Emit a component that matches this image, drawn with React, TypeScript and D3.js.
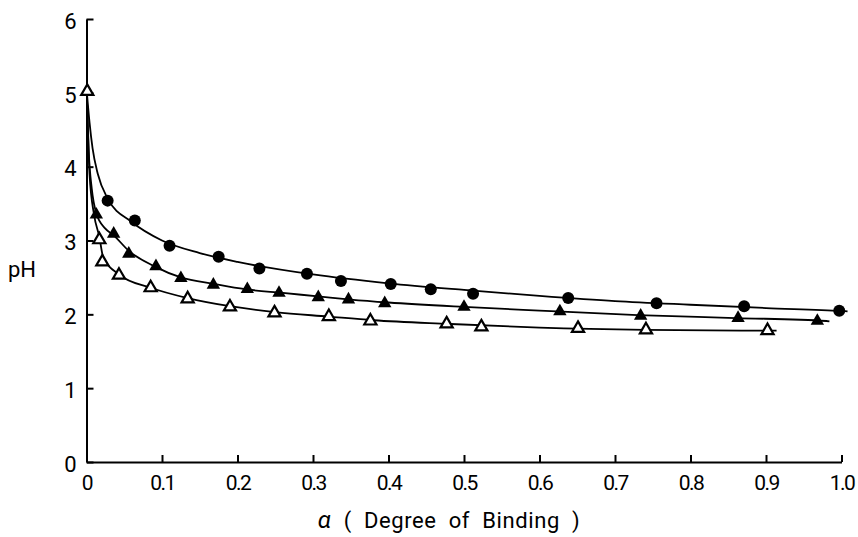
import React, { useEffect, useRef } from 'react';
import * as d3 from 'd3';

// marker readings (alpha, pH) for the three titrations
const circleAlpha = [0.028, 0.064, 0.11, 0.175, 0.229, 0.292, 0.337, 0.403, 0.456, 0.512, 0.638, 0.755, 0.871, 0.997];
const circlePH = [3.54, 3.27, 2.93, 2.78, 2.62, 2.55, 2.45, 2.41, 2.34, 2.28, 2.22, 2.15, 2.11, 2.05];

const filledAlpha = [0.013, 0.036, 0.056, 0.092, 0.125, 0.168, 0.213, 0.255, 0.307, 0.347, 0.395, 0.5, 0.627, 0.734, 0.863, 0.968];
const filledPH = [3.35, 3.09, 2.82, 2.65, 2.49, 2.4, 2.34, 2.29, 2.23, 2.2, 2.15, 2.1, 2.04, 1.98, 1.95, 1.91];

const openAlpha = [0.001, 0.017, 0.021, 0.043, 0.085, 0.134, 0.19, 0.249, 0.321, 0.376, 0.477, 0.523, 0.651, 0.741, 0.902];
const openPH = [5.02, 3.01, 2.71, 2.53, 2.36, 2.21, 2.1, 2.02, 1.97, 1.91, 1.87, 1.83, 1.81, 1.79, 1.78];

// smooth curves drawn through the points
const circleFitAlpha = [0.0005, 0.004, 0.008, 0.015, 0.028, 0.06, 0.1, 0.15, 0.2, 0.3, 0.4, 0.5, 0.6, 0.7, 0.8, 0.9, 1.0, 1.008];
const circleFitPH = [5.0, 4.6, 4.25, 3.9, 3.57, 3.25, 3.0, 2.83, 2.71, 2.54, 2.42, 2.33, 2.25, 2.18, 2.13, 2.085, 2.045, 2.04];

const filledFitAlpha = [0.0005, 0.003, 0.007, 0.013, 0.025, 0.036, 0.056, 0.09, 0.125, 0.17, 0.21, 0.26, 0.31, 0.35, 0.4, 0.5, 0.6, 0.73, 0.86, 0.98, 0.984];
const filledFitPH = [4.95, 4.2, 3.7, 3.37, 3.16, 3.07, 2.86, 2.65, 2.5, 2.41, 2.34, 2.29, 2.24, 2.2, 2.16, 2.1, 2.05, 1.99, 1.95, 1.91, 1.905];

const openFitAlpha = [0.0005, 0.004, 0.01, 0.017, 0.022, 0.043, 0.085, 0.134, 0.19, 0.25, 0.32, 0.38, 0.48, 0.6, 0.74, 0.9, 0.914];
const openFitPH = [4.95, 3.9, 3.35, 3.05, 2.78, 2.54, 2.36, 2.22, 2.11, 2.03, 1.97, 1.92, 1.87, 1.82, 1.79, 1.78, 1.78];

const xTicks = [0, 0.1, 0.2, 0.3, 0.4, 0.5, 0.6, 0.7, 0.8, 0.9, 1.0];
const yTicks = [0, 1, 2, 3, 4, 5, 6];

const FONT = 'Roboto, "Open Sans", sans-serif';

const zip = (xs: number[], ys: number[]) => xs.map((a, i) => ({ a, ph: ys[i] }));

const App = () => {
  const svgRef = useRef<SVGSVGElement>(null);

  useEffect(() => {
    const svg = d3.select(svgRef.current);
    svg.selectAll('*').remove();

    const x = d3.scaleLinear().domain([0, 1]).range([86.5, 841.5]);
    const y = d3.scaleLinear().domain([0, 6]).range([462, 19]);

    // axes, ticks pointing inward
    const xAxis = svg.append('g')
      .attr('transform', `translate(0,${y(0)})`)
      .call(d3.axisBottom(x).tickValues(xTicks).tickSizeInner(-7).tickSizeOuter(0).tickPadding(13)
        .tickFormat(d => (+d === 0 ? '0' : d3.format('.1f')(+d))));
    xAxis.selectAll('text').attr('font-size', 21).attr('font-family', FONT).attr('letter-spacing', -1.5);

    const yAxis = svg.append('g')
      .attr('transform', `translate(${x(0)},0)`)
      .call(d3.axisLeft(y).tickValues(yTicks).tickSizeInner(-7).tickSizeOuter(0).tickPadding(10)
        .tickFormat(d => String(d)));
    yAxis.selectAll('text').attr('font-size', 22).attr('font-family', FONT).attr('dy', '0.42em');

    svg.selectAll('.domain, .tick line').attr('stroke', '#000').attr('stroke-width', 2);

    // curves
    const line = d3.line<{ a: number; ph: number }>()
      .x(d => x(d.a))
      .y(d => y(d.ph))
      .curve(d3.curveMonotoneX);

    [zip(circleFitAlpha, circleFitPH), zip(filledFitAlpha, filledFitPH), zip(openFitAlpha, openFitPH)]
      .forEach(fit => {
        svg.append('path')
          .datum(fit)
          .attr('fill', 'none')
          .attr('stroke', '#000')
          .attr('stroke-width', 1.8)
          .attr('d', line);
      });

    // markers
    svg.append('g').selectAll('circle')
      .data(zip(circleAlpha, circlePH))
      .enter().append('circle')
      .attr('cx', d => x(d.a))
      .attr('cy', d => y(d.ph))
      .attr('r', 6)
      .attr('fill', '#000');

    const tri = d3.symbol().type(d3.symbolTriangle).size(78);

    svg.append('g').selectAll('path')
      .data(zip(filledAlpha, filledPH))
      .enter().append('path')
      .attr('transform', d => `translate(${x(d.a)},${y(d.ph)})`)
      .attr('d', tri)
      .attr('fill', '#000');

    svg.append('g').selectAll('path')
      .data(zip(openAlpha, openPH))
      .enter().append('path')
      .attr('transform', d => `translate(${x(d.a)},${y(d.ph)})`)
      .attr('d', d3.symbol().type(d3.symbolTriangle).size(64))
      .attr('fill', '#fff')
      .attr('stroke', '#000')
      .attr('stroke-width', 2.2);

    // axis titles
    svg.append('text')
      .attr('x', 22)
      .attr('y', 277)
      .attr('text-anchor', 'middle')
      .attr('font-size', 22)
      .attr('font-family', FONT)
      .text('pH');

    const title = svg.append('text')
      .attr('x', 449)
      .attr('y', 528)
      .attr('text-anchor', 'middle')
      .attr('font-size', 22)
      .attr('font-family', FONT)
      .attr('letter-spacing', 0.6)
      .attr('xml:space', 'preserve');
    title.append('tspan').attr('font-style', 'italic').attr('font-size', 24).text('α');
    title.append('tspan').text('  (  Degree  of  Binding  )');
  }, []);

  return (
    <svg
      ref={svgRef}
      width={858}
      height={537}
      style={{ position: 'absolute', left: 0, top: 0, background: '#fff' }}
    />
  );
};

export default App;
